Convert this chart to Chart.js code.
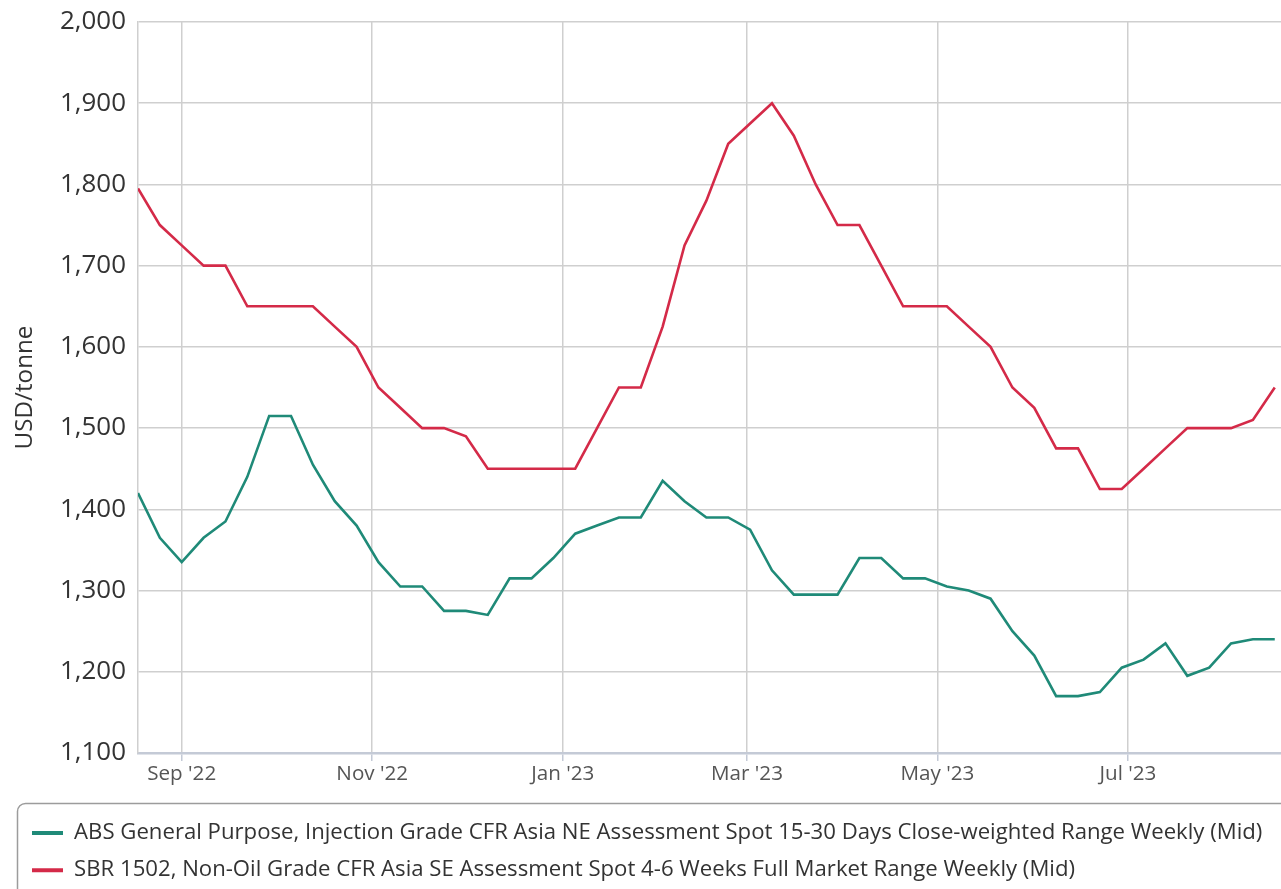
<!DOCTYPE html>
<html>
<head>
<meta charset="utf-8">
<script src="https://cdn.jsdelivr.net/npm/chart.js@4.4.1/dist/chart.umd.min.js"></script>
<style>
  html, body { margin: 0; padding: 0; background: #fff; overflow: hidden; }
  #wrap { position: relative; width: 1281px; height: 889px; }
</style>
</head>
<body>
<div id="wrap"><canvas id="c"></canvas></div>
<script>
// ---- data ----
const weekDates = [
  '2022-08-18','2022-08-25','2022-09-01','2022-09-08','2022-09-15','2022-09-22','2022-09-29',
  '2022-10-06','2022-10-13','2022-10-20','2022-10-27','2022-11-03','2022-11-10','2022-11-17',
  '2022-11-24','2022-12-01','2022-12-08','2022-12-15','2022-12-22','2022-12-29','2023-01-05',
  '2023-01-12','2023-01-19','2023-01-26','2023-02-02','2023-02-09','2023-02-16','2023-02-23',
  '2023-03-02','2023-03-09','2023-03-16','2023-03-23','2023-03-30','2023-04-06','2023-04-13',
  '2023-04-20','2023-04-27','2023-05-04','2023-05-11','2023-05-18','2023-05-25','2023-06-01',
  '2023-06-08','2023-06-15','2023-06-22','2023-06-29','2023-07-06','2023-07-13','2023-07-20',
  '2023-07-27','2023-08-03','2023-08-10','2023-08-17'
];
const absValues = [
  1420,1365,1335,1365,1385,1440,1515,1515,1455,1410,1380,1335,1305,1305,1275,1275,1270,1315,1315,1340,
  1370,1380,1390,1390,1435,1410,1390,1390,1375,1325,1295,1295,1295,1340,1340,1315,1315,1305,1300,1290,
  1250,1220,1170,1170,1175,1205,1215,1235,1195,1205,1235,1240,1240
];
const sbrValues = [
  1795,1750,1725,1700,1700,1650,1650,1650,1650,1625,1600,1550,1525,1500,1500,1490,1450,1450,1450,1450,
  1450,1500,1550,1550,1625,1725,1780,1850,1875,1900,1860,1800,1750,1750,1700,1650,1650,1650,1625,1600,
  1550,1525,1475,1475,1425,1425,1450,1475,1500,1500,1500,1510,1550
];
const seriesNames = [
  'ABS General Purpose, Injection Grade CFR Asia NE Assessment Spot 15-30 Days Close-weighted Range Weekly (Mid)',
  'SBR 1502, Non-Oil Grade CFR Asia SE Assessment Spot 4-6 Weeks Full Market Range Weekly (Mid)'
];
const monthTicks = ['2022-09-01','2022-11-01','2023-01-01','2023-03-01','2023-05-01','2023-07-01'];
const monthLabels = ["Sep '22","Nov '22","Jan '23","Mar '23","May '23","Jul '23"];
const xRange = ['2022-08-18','2023-08-19'];
const yMin = 1100, yMax = 2000, yStep = 100;
const yTitle = 'USD/tonne';

// ---- style helpers ----
const FAMILY = '"Open Sans", "Noto Sans", sans-serif';
const mctx = document.createElement('canvas').getContext('2d');
function fitSize(text, target) {
  mctx.font = '100px ' + FAMILY;
  return 100 * target / mctx.measureText(text).width;
}
const yTickSize = fitSize('2,000', 66);
const xTickSize = fitSize("Sep '22", 69);
const legendSize = fitSize(seriesNames[0], 1189);
const titleSize = fitSize(yTitle, 124);

const legendPad = 15;
const legendHeight = 2 * (legendSize + legendPad) + 10;
const legendTop = 833 - legendPad - legendSize / 2;
const padBottom = 889 - (legendTop + legendHeight);
const padLeft = 17;

const toMs = s => Date.parse(s);
const absData = weekDates.map((d, i) => ({x: toMs(d), y: absValues[i]}));
const sbrData = weekDates.map((d, i) => ({x: toMs(d), y: sbrValues[i]}));
const tickMs = monthTicks.map(toMs);

const legendBorder = {
  id: 'legendBorder',
  afterDraw(chart) {
    const ctx = chart.ctx;
    ctx.save();
    ctx.strokeStyle = '#9c9c9c';
    ctx.lineWidth = 1.5;
    ctx.beginPath();
    ctx.roundRect(17.5, 803.5, 1320, 200, 8);
    ctx.stroke();
    ctx.restore();
  }
};

new Chart(document.getElementById('c'), {
  type: 'line',
  data: {
    datasets: [
      { label: seriesNames[0], data: absData, borderColor: '#1f8a78', backgroundColor: '#1f8a78',
        borderWidth: 2.6, pointRadius: 0, tension: 0 },
      { label: seriesNames[1], data: sbrData, borderColor: '#d42a48', backgroundColor: '#d42a48',
        borderWidth: 2.6, pointRadius: 0, tension: 0 }
    ]
  },
  options: {
    responsive: true,
    maintainAspectRatio: false,
    animation: false,
    layout: { padding: { top: 22, right: 0, bottom: padBottom, left: padLeft } },
    plugins: {
      tooltip: { enabled: false },
      legend: {
        position: 'bottom',
        align: 'start',
        labels: {
          font: { family: FAMILY, size: legendSize },
          color: '#333',
          boxWidth: 31,
          boxHeight: 4,
          padding: legendPad,
          generateLabels(chart) {
            return Chart.defaults.plugins.legend.labels.generateLabels(chart).map(l => ({...l, lineWidth: 0}));
          }
        }
      }
    },
    scales: {
      x: {
        type: 'linear',
        min: toMs(xRange[0]),
        max: toMs(xRange[1]),
        afterBuildTicks(scale) { scale.ticks = tickMs.map(v => ({value: v})); },
        afterFit(scale) { scale.height = legendTop - 753; scale.paddingLeft = 0; scale.paddingRight = 0; },
        ticks: {
          autoSkip: false,
          maxRotation: 0,
          padding: 1,
          color: '#555',
          font: { family: FAMILY, size: xTickSize },
          callback(v) { const i = tickMs.indexOf(v); return i >= 0 ? monthLabels[i] : ''; }
        },
        grid: { color: '#cfcfcf', lineWidth: 1.5, tickLength: 8, tickColor: '#c4cad6' },
        border: { color: '#c4cad6', width: 2.5 }
      },
      y: {
        min: yMin, max: yMax,
        afterFit(scale) { scale.width = 138 - padLeft; scale.paddingTop = 0; scale.paddingBottom = 0; },
        ticks: {
          stepSize: yStep,
          padding: 12,
          color: '#333',
          font: { family: FAMILY, size: yTickSize },
          callback(v) { return v.toLocaleString('en-US'); }
        },
        grid: { color: '#cfcfcf', lineWidth: 1.5, drawTicks: false },
        border: { color: '#cfcfcf', width: 1.5 },
        title: {
          display: true,
          text: yTitle,
          color: '#333',
          font: { family: FAMILY, size: titleSize },
          padding: { top: 8 - titleSize * 0.6, bottom: 0 }
        }
      }
    }
  },
  plugins: [legendBorder]
});
</script>
</body>
</html>
